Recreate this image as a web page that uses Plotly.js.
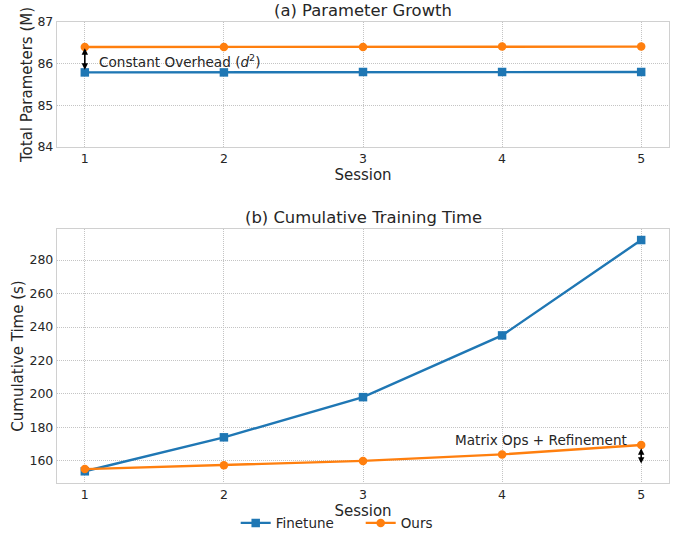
<!DOCTYPE html>
<html><head><meta charset="utf-8">
<script src="https://cdn.plot.ly/plotly-3.0.1.min.js"></script>
<style>html,body{margin:0;padding:0;background:#fff}#chart{width:686px;height:534px}</style>
</head><body><div id="chart"></div>
<script>
const sessions = [1, 2, 3, 4, 5];
const paramsFinetune = [85.79, 85.79, 85.80, 85.80, 85.80];
const paramsOurs = [86.40, 86.40, 86.40, 86.41, 86.41];
const timeFinetune = [153.8, 174.1, 198.1, 235.0, 292.0];
const timeOurs = [155.1, 157.4, 160.0, 163.9, 169.5];
const seriesNames = ['Finetune', 'Ours'];
const colors = ['#1f77b4', '#ff7f0e'];

const font = 'DejaVu Sans, sans-serif';
const txt = '#262626';

function tr(x, y, i, xa, ya, show) {
  return {
    x: x, y: y, name: seriesNames[i], xaxis: xa, yaxis: ya, showlegend: show,
    type: 'scatter', mode: 'lines+markers',
    line: {color: colors[i], width: 2.4},
    marker: {color: colors[i], size: 8.5, symbol: i === 0 ? 'square' : 'circle'}
  };
}

const data = [
  tr(sessions, paramsFinetune, 0, 'x', 'y', true),
  tr(sessions, paramsOurs, 1, 'x', 'y', true),
  tr(sessions, timeFinetune, 0, 'x2', 'y2', false),
  tr(sessions, timeOurs, 1, 'x2', 'y2', false)
];

const axBase = {
  showgrid: true, gridcolor: '#c4c4c4', griddash: '1px,1px', gridwidth: 1,
  showline: true, mirror: true, linecolor: '#d0d0d0', linewidth: 1.2,
  zeroline: false, ticks: '', ticklen: 0,
  tickfont: {family: font, size: 12.5, color: txt}
};

const layout = {
  width: 686, height: 534,
  margin: {l: 57, r: 17, t: 22, b: 51, autoexpand: false},
  paper_bgcolor: '#fff', plot_bgcolor: '#fff',
  font: {family: font, color: txt},
  showlegend: true,
  legend: {orientation: 'h', x: 0.292, xanchor: 'left', y: -0.087, yanchor: 'middle',
    entrywidth: 80, entrywidthmode: 'pixels',
    font: {family: font, size: 13.5, color: txt}, tracegroupgap: 0},
  xaxis: Object.assign({}, axBase, {domain: [0, 1], anchor: 'y', range: [0.8, 5.2],
    tickvals: sessions, ticktext: sessions.map(String),
    title: {text: 'Session', font: {family: font, size: 15, color: txt}, standoff: 1}}),
  yaxis: Object.assign({}, axBase, {domain: [0.7289, 1], anchor: 'x', range: [84, 87], dtick: 1,
    title: {text: 'Total Parameters (M)', font: {family: font, size: 15, color: txt}, standoff: 1}}),
  xaxis2: Object.assign({}, axBase, {domain: [0, 1], anchor: 'y2', range: [0.8, 5.2],
    tickvals: sessions, ticktext: sessions.map(String),
    title: {text: 'Session', font: {family: font, size: 15, color: txt}, standoff: 0}}),
  yaxis2: Object.assign({}, axBase, {domain: [0, 0.551], anchor: 'x2', range: [146.8, 298.6],
    tickvals: [160, 180, 200, 220, 240, 260, 280],
    title: {text: 'Cumulative Time (s)', font: {family: font, size: 15, color: txt}, standoff: 2}}),
  annotations: [
    {text: '(a) Parameter Growth', xref: 'paper', yref: 'paper', x: 0.5, y: 1, yanchor: 'bottom', yshift: 0,
      showarrow: false, font: {family: font, size: 16.4, color: txt}},
    {text: '(b) Cumulative Training Time', xref: 'paper', yref: 'paper', x: 0.5, y: 0.551, yanchor: 'bottom', yshift: 0,
      showarrow: false, font: {family: font, size: 16.4, color: txt}},
    {text: 'Constant Overhead (<i>d</i><sup>2</sup>)', xref: 'x', yref: 'y', x: 1.09, y: 86.07,
      xanchor: 'left', yanchor: 'middle', showarrow: false, font: {family: font, size: 13.6, color: txt}},
    {text: '', xref: 'x', yref: 'y', axref: 'x', ayref: 'y', x: 1, y: paramsOurs[0] - 0.03, ax: 1, ay: paramsFinetune[0] + 0.03,
      showarrow: true, arrowhead: 2, startarrowhead: 2, arrowside: 'end+start', arrowwidth: 1.6, arrowsize: 0.8, arrowcolor: '#000'},
    {text: 'Matrix Ops + Refinement', xref: 'x2', yref: 'y2', x: 4.91, y: 172.7,
      xanchor: 'right', yanchor: 'middle', showarrow: false, font: {family: font, size: 13.6, color: txt}},
    {text: '', xref: 'x2', yref: 'y2', axref: 'x2', ayref: 'y2', x: 5, y: timeOurs[4] - 2, ax: 5, ay: timeOurs[4] - 12,
      showarrow: true, arrowhead: 2, startarrowhead: 2, arrowside: 'end+start', arrowwidth: 1.6, arrowsize: 0.8, arrowcolor: '#000'}
  ]
};

Plotly.newPlot('chart', data, layout, {displayModeBar: false, staticPlot: true});
</script></body></html>
